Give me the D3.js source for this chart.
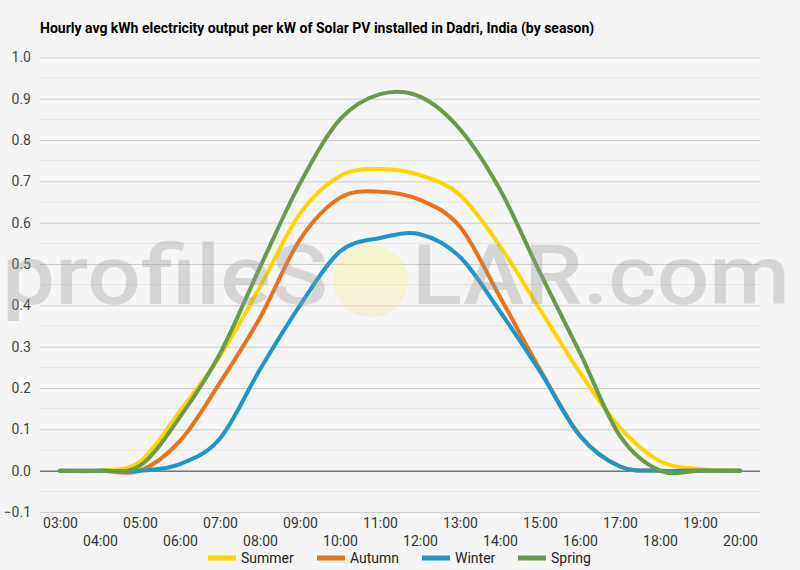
<!DOCTYPE html>
<html>
<head>
<meta charset="utf-8">
<script src="https://cdn.jsdelivr.net/npm/d3@7"></script>
<style>
  body { margin: 0; background: #f5f5f5; }
  svg { display: block; font-family: Roboto, sans-serif; }
</style>
</head>
<body>
<svg id="chart" width="800" height="570"></svg>
<script>
const hours = ['03:00', '04:00', '05:00', '06:00', '07:00', '08:00', '09:00', '10:00', '11:00',
  '12:00', '13:00', '14:00', '15:00', '16:00', '17:00', '18:00', '19:00', '20:00'];

const summer = [0, 0, 0.022, 0.144, 0.277, 0.445, 0.622, 0.713, 0.73, 0.715, 0.667, 0.543,
  0.39, 0.237, 0.104, 0.023, 0.004, 0];
const autumn = [0, 0, 0, 0.072, 0.213, 0.37, 0.559, 0.66, 0.675, 0.655, 0.59, 0.42,
  0.245, 0.085, 0.01, 0, 0, 0];
const winter = [0, 0, 0, 0.016, 0.078, 0.245, 0.4, 0.53, 0.563, 0.572, 0.517, 0.385,
  0.24, 0.084, 0.01, 0, 0, 0];
const spring = [0, 0, 0.012, 0.13, 0.283, 0.492, 0.695, 0.85, 0.911, 0.905, 0.826, 0.68,
  0.479, 0.285, 0.084, 0, 0, 0];

const seasons = ['Summer', 'Autumn', 'Winter', 'Spring'];
const colors = ['#fdd600', '#e8731f', '#2196c4', '#6b9a4c'];
const yTicks = [-0.1, 0, 0.1, 0.2, 0.3, 0.4, 0.5, 0.6, 0.7, 0.8, 0.9, 1.0];

const series = [summer, autumn, winter, spring];

const svg = d3.select('#chart');
const plotLeft = 40, plotRight = 760, plotTop = 57.3, plotBottom = 512;

const x = d3.scalePoint().domain(hours).range([plotLeft, plotRight]).padding(0.5);
const y = d3.scaleLinear().domain([-0.1, 1.0]).range([plotBottom, plotTop]);

svg.append('rect').attr('width', 800).attr('height', 570).attr('fill', '#f5f5f5');

// title
svg.append('text')
  .attr('x', 40).attr('y', 33)
  .attr('font-size', 14).attr('font-weight', 'bold').attr('fill', '#000')
  .text('Hourly avg kWh electricity output per kW of Solar PV installed in Dadri, India (by season)');

// minor gridlines (half steps)
const minor = d3.range(-0.05, 1.0, 0.1);
svg.append('g').selectAll('line').data(minor).join('line')
  .attr('x1', plotLeft).attr('x2', plotRight)
  .attr('y1', d => y(d)).attr('y2', d => y(d))
  .attr('stroke', '#e4e4e4').attr('stroke-width', 1);

// major gridlines + labels
const yAxis = d3.axisLeft(y).tickValues(yTicks).tickSize(-(plotRight - plotLeft))
  .tickFormat(d3.format('.1f'));
const gy = svg.append('g').attr('transform', `translate(${plotLeft},0)`).call(yAxis);
gy.select('.domain').remove();
gy.selectAll('.tick line')
  .attr('stroke', d => Math.abs(d) < 1e-9 ? '#333' : '#cccccc');
gy.selectAll('.tick text')
  .attr('x', -9).attr('font-size', 14).attr('fill', '#444')
  .attr('font-family', 'Roboto, sans-serif');

// x axis labels, staggered in two rows
const xAxis = d3.axisBottom(x).tickSize(0);
const gx = svg.append('g').attr('transform', `translate(0,${plotBottom})`).call(xAxis);
gx.select('.domain').remove();
gx.selectAll('.tick text')
  .attr('y', (d, i) => i % 2 === 0 ? 16 : 34)
  .attr('dy', 0)
  .attr('font-size', 14).attr('fill', '#333')
  .attr('font-family', 'Roboto, sans-serif');

// lines
const line = d3.line()
  .x((d, i) => x(hours[i]))
  .y(d => y(d))
  .curve(d3.curveCardinal.tension(0));

svg.append('g').selectAll('path').data(series).join('path')
  .attr('d', line)
  .attr('fill', 'none')
  .attr('stroke', (d, i) => colors[i])
  .attr('stroke-width', 4)
  .attr('stroke-linecap', 'round')
  .attr('stroke-linejoin', 'round');

// watermark, drawn over the plot with transparency
const wm = svg.append('g').attr('pointer-events', 'none');
const defs = svg.append('defs');
const grad = defs.append('linearGradient').attr('id', 'sun')
  .attr('x1', 0).attr('y1', 0).attr('x2', 0).attr('y2', 1);
grad.append('stop').attr('offset', '0%').attr('stop-color', '#f6f060');
grad.append('stop').attr('offset', '65%').attr('stop-color', '#f6e888');
grad.append('stop').attr('offset', '100%').attr('stop-color', '#f5cfa0');

wm.append('text')
  .attr('x', 2).attr('y', 304)
  .attr('font-size', 84).attr('font-weight', 500).attr('fill', '#999').attr('opacity', 0.34)
  .attr('textLength', 326).attr('lengthAdjust', 'spacingAndGlyphs')
  .text('profileS');
wm.append('ellipse')
  .attr('cx', 370.5).attr('cy', 281).attr('rx', 37.5).attr('ry', 36)
  .attr('fill', 'url(#sun)').attr('opacity', 0.3);
wm.append('text')
  .attr('x', 412).attr('y', 304)
  .attr('font-size', 84).attr('font-weight', 500).attr('fill', '#999').attr('opacity', 0.34)
  .attr('textLength', 378).attr('lengthAdjust', 'spacingAndGlyphs')
  .text('LAR.com');

// legend
const legendX = [208, 317, 422, 518];
const lg = svg.append('g').selectAll('g').data(seasons).join('g')
  .attr('transform', (d, i) => `translate(${legendX[i]},558)`);
lg.append('line')
  .attr('x1', 0).attr('x2', 28).attr('y1', 0).attr('y2', 0)
  .attr('stroke', (d, i) => colors[i]).attr('stroke-width', 5);
lg.append('text')
  .attr('x', 33).attr('y', 5)
  .attr('font-size', 14).attr('fill', '#222')
  .text(d => d);
</script>
</body>
</html>
